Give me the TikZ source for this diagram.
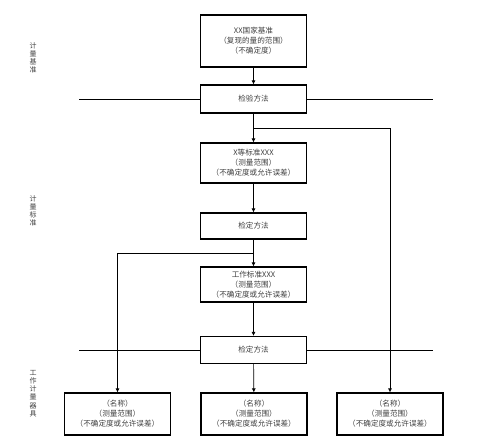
\documentclass[tikz,border=0pt]{standalone}
\usepackage{fontspec}
\setmainfont{Liberation Serif}
\newfontfamily\cjk{Noto Sans CJK SC}
\usetikzlibrary{arrows.meta}
\begin{document}
\begin{tikzpicture}[x=1pt,y=-1pt,
  box/.style={draw=black,line width=1.1pt,minimum width=106pt,inner sep=0pt,align=center,font=\cjk\fontsize{7.6}{10}\selectfont,text=black!75},
  conn/.style={draw=black,line width=0.7pt},
  arr/.style={conn,-{Latex[length=4pt,width=4pt]}},
  side/.style={font=\cjk\fontsize{7}{8.2}\selectfont,text=black!75,align=center}]
\useasboundingbox (0,0) rectangle (480,446);
\node[box,minimum height=52pt] (top) at (253.5,41) {XX国家基准\\（复现的量的范围）\\（不确定度）};
\node[box,minimum height=28pt] (m1) at (253.5,99) {检验方法};
\node[box,minimum height=40pt] (s2) at (253.5,163) {X等标准XXX\\（测量范围）\\（不确定度或允许误差）};
\node[box,minimum height=26pt] (m2) at (253.5,226) {检定方法};
\node[box,minimum height=35pt] (s3) at (253.5,284.5) {工作标准XXX\\（测量范围）\\（不确定度或允许误差）};
\node[box,minimum height=27pt] (m3) at (253.5,350) {检定方法};
\node[box,minimum height=42pt] (b1) at (117.5,414) {（名称）\\（测量范围）\\（不确定度或允许误差）};
\node[box,minimum height=42pt] (b2) at (254,414) {（名称）\\（测量范围）\\（不确定度或允许误差）};
\node[box,minimum height=42pt] (b3) at (390,414) {（名称）\\（测量范围）\\（不确定度或允许误差）};
\node[side] (l1) at (33,58) {计\\量\\基\\准};
\node[side] (l2) at (33,211) {计\\量\\标\\准};
\node[side] (l3) at (33,393.5) {工\\作\\计\\量\\器\\具};
\coordinate (h1l) at (79,99);
\coordinate (h1r) at (433,99);
\coordinate (h3l) at (79,350);
\coordinate (h3r) at (433,350);
\coordinate (j1) at (253.5,128);
\coordinate (j2) at (253.5,253);
\draw[conn] (h1l) -- (m1.west);
\draw[conn] (m1.east) -- (h1r);
\draw[conn] (h3l) -- (m3.west);
\draw[conn] (m3.east) -- (h3r);
\draw[arr] (top) -- (m1);
\draw[arr] (m1) -- (s2);
\draw[arr] (s2) -- (m2);
\draw[arr] (m2) -- (s3);
\draw[arr] (s3) -- (m3);
\draw[arr] (m3) -- (b2);
\draw[arr] (j1) -| (b3.north);
\draw[arr] (j2) -| (b1.north);
\end{tikzpicture}
\end{document}
